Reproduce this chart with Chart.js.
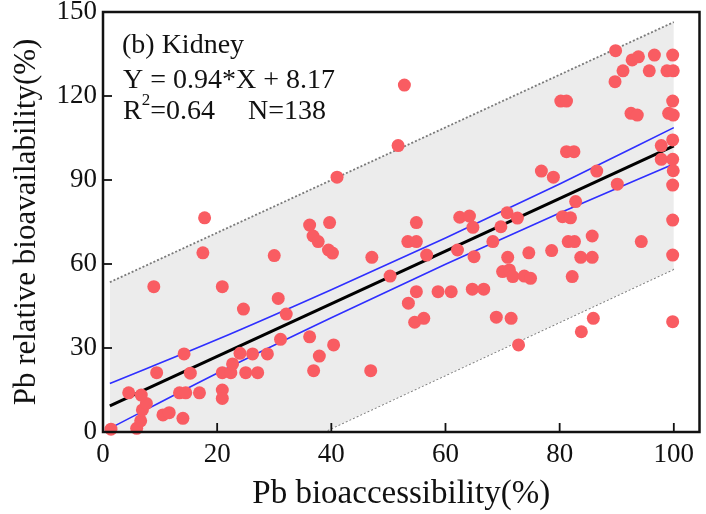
<!DOCTYPE html>
<html>
<head>
<meta charset="utf-8">
<script src="https://cdn.jsdelivr.net/npm/chart.js@4.4.0/dist/chart.umd.min.js"></script>
<style>
  html, body { margin: 0; padding: 0; background: #fff; }
  #wrap { width: 706px; height: 514px; }
</style>
</head>
<body>
<div id="wrap"><canvas id="chart" width="706" height="514"></canvas></div>
<script>
// --- 1. DATA ---
const bioAccess = [
    1.4, 5.9, 6.6, 6.9, 7.6, 6.7, 4.5, 10.5, 11.6, 14.0, 13.4, 14.5, 16.9, 20.9, 20.9, 9.4, 15.3, 20.9, 22.4, 25.0,
    27.1, 22.7, 24.0, 26.2, 28.8, 14.2, 31.1, 24.6, 32.1, 30.7, 8.9, 20.9, 17.5, 30.0, 17.8,
    36.2, 39.7, 36.8, 37.7, 39.5, 40.2, 47.1, 41.0, 51.7, 52.8, 36.2, 40.4, 37.9, 36.9, 46.9,
    50.3, 53.5, 54.6, 56.2, 54.9, 58.7, 61.0, 64.7, 66.7, 56.7, 62.1, 65.0, 54.9, 53.4, 54.9, 62.5, 64.2, 64.8,
    68.3, 69.7, 70.8, 72.6, 70.9, 74.6, 78.6, 70.0, 71.2, 71.8, 73.8, 74.9, 68.9, 71.5, 72.8, 83.8, 85.9,
    80.5, 81.9, 85.7, 81.5, 82.6, 83.7, 85.7, 82.2, 94.3, 82.8, 76.8, 78.9, 86.5, 90.1, 81.2, 82.5,
    80.2, 81.2, 92.5, 93.6, 89.7, 89.8, 92.7, 93.8, 96.6, 91.1, 95.7,
    99.8, 98.8, 99.9, 99.8, 99.1, 99.9, 99.8, 97.8, 97.8, 99.8, 99.9, 99.8, 99.8, 99.8, 99.8
];
const bioAvail = [
    1.0, 1.3, 4.0, 7.9, 10.2, 13.2, 14.0, 6.1, 6.9, 4.9, 14.0, 14.0, 14.0, 15.0, 12.0, 21.2, 21.0, 21.2, 21.2, 21.2,
    21.2, 24.3, 28.1, 27.9, 27.9, 27.9, 33.1, 43.9, 42.1, 47.7, 51.9, 51.9, 64.0, 63.0, 76.5,
    73.9, 74.8, 70.0, 68.0, 65.0, 63.9, 62.4, 91.0, 102.3, 123.9, 34.0, 31.1, 27.1, 21.9, 21.9,
    55.7, 46.0, 39.2, 40.6, 50.1, 50.1, 50.1, 51.0, 51.0, 63.2, 65.0, 62.6, 74.8, 68.0, 68.0, 76.7, 77.1, 73.1,
    68.0, 73.3, 78.3, 76.4, 62.4, 64.0, 64.8, 57.3, 57.9, 55.5, 55.7, 54.9, 41.0, 40.6, 31.1, 35.8, 40.6,
    76.9, 76.5, 70.0, 68.0, 68.0, 62.4, 62.4, 55.5, 68.0, 82.3, 93.2, 91.0, 93.2, 88.5, 100.1, 100.1,
    118.2, 118.2, 113.8, 113.2, 125.1, 136.2, 132.9, 134.0, 134.6, 129.0, 129.0,
    134.6, 129.0, 129.0, 118.2, 113.8, 113.2, 104.3, 102.3, 97.4, 97.4, 93.3, 88.2, 75.7, 63.2, 39.4
];

// fitted line Y = 0.94*X + 8.17, end points
const fitX = [1.2, 100];
const fitY = [9.3, 102.2];

// 95% confidence band (blue)
const confX = [1.2, 20, 40, 60, 80, 100];
const confUpper = [17.3, 33.0, 50.8, 69.3, 88.6, 108.7];
const confLower = [1.3, 21.0, 40.8, 59.9, 78.2, 95.7];

// 95% prediction band (grey, dotted)
const predX = [1.2, 100];
const predUpper = [53.5, 146.4];
const predLower = [-35.5, 58.2];

const xTicks = [0, 20, 40, 60, 80, 100];
const yTicks = [0, 30, 60, 90, 120, 150];

const toXY = (xs, ys) => xs.map((x, i) => ({ x: x, y: ys[i] }));

// --- 2. PLUGINS ---
const frameAndTicks = {
    id: 'frameAndTicks',
    afterDatasetsDraw(chart) {
        const { ctx, chartArea: a, scales } = chart;
        ctx.save();
        ctx.strokeStyle = '#111';
        ctx.lineWidth = 1.8;
        xTicks.slice(1).forEach(v => {
            const px = scales.x.getPixelForValue(v);
            ctx.beginPath(); ctx.moveTo(px, a.bottom); ctx.lineTo(px, a.bottom - 9); ctx.stroke();
        });
        yTicks.slice(1).forEach(v => {
            const py = scales.y.getPixelForValue(v);
            ctx.beginPath(); ctx.moveTo(a.left, py); ctx.lineTo(a.left + 9, py); ctx.stroke();
        });
        ctx.lineWidth = 2.5;
        ctx.strokeRect(a.left, a.top, a.right - a.left, a.bottom - a.top);
        ctx.restore();
    }
};

const labels = {
    id: 'labels',
    afterDraw(chart) {
        const ctx = chart.ctx;
        ctx.save();
        ctx.fillStyle = '#111';
        ctx.font = '28px "Liberation Serif", serif';
        ctx.textBaseline = 'alphabetic';
        ctx.fillText('(b) Kidney', 122, 53);
        ctx.fillText('Y = 0.94*X + 8.17', 123, 88);
        ctx.fillText('R', 123, 119);
        const rw = ctx.measureText('R').width;
        ctx.font = '17px "Liberation Serif", serif';
        ctx.fillText('2', 123 + rw, 105);
        const sw = ctx.measureText('2').width;
        ctx.font = '28px "Liberation Serif", serif';
        ctx.fillText('=0.64', 123 + rw + sw, 119);
        ctx.fillText('N=138', 248, 119);
        ctx.restore();
    }
};

// --- 3. CHART ---
new Chart(document.getElementById('chart'), {
    type: 'scatter',
    data: {
        datasets: [
            {
                label: 'samples',
                data: toXY(bioAccess, bioAvail),
                backgroundColor: '#f95c62',
                borderWidth: 0,
                pointRadius: 6.5,
                clip: false
            },
            {
                label: 'fit',
                data: toXY(fitX, fitY),
                showLine: true,
                borderColor: '#000',
                borderWidth: 3,
                pointRadius: 0
            },
            {
                label: 'conf upper',
                data: toXY(confX, confUpper),
                showLine: true,
                borderColor: '#2f2fff',
                borderWidth: 1.6,
                pointRadius: 0,
                cubicInterpolationMode: 'monotone'
            },
            {
                label: 'conf lower',
                data: toXY(confX, confLower),
                showLine: true,
                borderColor: '#2f2fff',
                borderWidth: 1.6,
                pointRadius: 0,
                cubicInterpolationMode: 'monotone'
            },
            {
                label: 'pred upper',
                data: toXY(predX, predUpper),
                showLine: true,
                borderColor: '#7a7a7a',
                borderWidth: 1.8,
                borderDash: [2, 2],
                pointRadius: 0,
                fill: '+1',
                backgroundColor: '#ececec'
            },
            {
                label: 'pred lower',
                data: toXY(predX, predLower),
                showLine: true,
                borderColor: '#7a7a7a',
                borderWidth: 1.8,
                borderDash: [2, 2],
                pointRadius: 0
            }
        ]
    },
    options: {
        responsive: false,
        animation: false,
        layout: { padding: { top: 12, right: 3, left: 0, bottom: 0 } },
        plugins: { legend: { display: false }, tooltip: { enabled: false } },
        scales: {
            x: {
                type: 'linear',
                min: 0,
                max: 104.5,
                afterFit: s => { s.height = 82; s.paddingLeft = 0; s.paddingRight = 0; },
                afterBuildTicks: s => { s.ticks = xTicks.map(v => ({ value: v })); },
                grid: { display: false, drawTicks: false },
                border: { display: false },
                ticks: {
                    padding: 7,
                    color: '#111',
                    font: { family: '"Liberation Serif", serif', size: 27 }
                },
                title: {
                    display: true,
                    text: 'Pb bioaccessibility(%)',
                    color: '#111',
                    padding: { top: 0, bottom: 0 },
                    font: { family: '"Liberation Serif", serif', size: 33 }
                }
            },
            y: {
                type: 'linear',
                min: 0,
                max: 150,
                afterFit: s => { s.width = 103; s.paddingTop = 0; s.paddingBottom = 0; },
                afterBuildTicks: s => { s.ticks = yTicks.map(v => ({ value: v })); },
                grid: { display: false, drawTicks: false },
                border: { display: false },
                ticks: {
                    padding: 6,
                    color: '#111',
                    font: { family: '"Liberation Serif", serif', size: 27 }
                },
                title: {
                    display: true,
                    text: 'Pb relative bioavailability(%)',
                    color: '#111',
                    padding: { top: 8, bottom: 0 },
                    font: { family: '"Liberation Serif", serif', size: 31 }
                }
            }
        }
    },
    plugins: [frameAndTicks, labels]
});
</script>
</body>
</html>
